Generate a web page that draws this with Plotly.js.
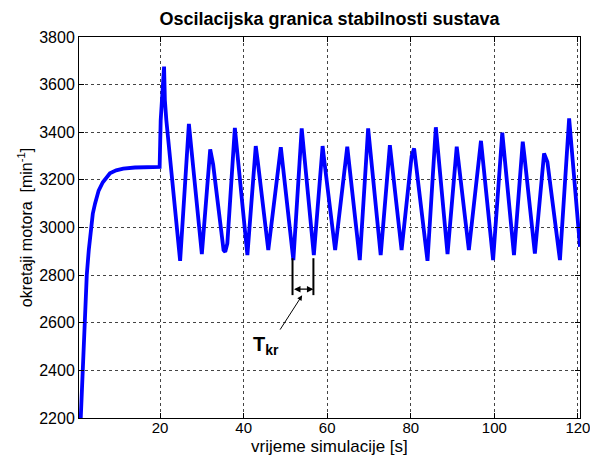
<!DOCTYPE html>
<html>
<head>
<meta charset="utf-8">
<script src="https://cdn.plot.ly/plotly-3.0.1.min.js"></script>
<style>html,body{margin:0;padding:0;background:#fff;}#chart{width:590px;height:456px;}</style>
</head>
<body>
<div id="chart"></div>
<script>
// time [s]
const timeS = [0.9, 1.03, 1.5, 2.0, 2.46, 2.94, 3.42, 3.9, 4.45, 5.3, 6.3, 7.2, 8.0, 9.5, 11.2, 14.0, 17.6, 19.9,
  20.15, 20.4, 20.6, 20.96, 21.15, 21.5, 24.8,
  26.9, 30.0, 32.0, 32.7, 35.2, 35.6, 36.1, 37.9, 40.9, 42.9, 43.4, 45.9, 48.9, 51.9, 53.9, 56.8, 58.9, 59.3,
  61.9, 64.8, 67.8, 69.8, 72.8, 75.0, 75.4, 77.8, 80.2, 80.8, 84.0, 86.0, 88.8, 91.0, 91.4, 93.9, 96.8,
  99.7, 101.9, 104.7, 106.8, 107.2, 109.7, 111.9, 112.7, 115.7, 117.9, 120.5];
// motor speed [min^-1]
const speedRpm = [2150, 2205, 2400, 2597, 2800, 2905, 3000, 3058, 3101, 3155, 3190, 3213, 3228, 3240, 3247, 3252, 3255, 3255,
  3450, 3521, 3560, 3676, 3535, 3451, 2860,
  3435, 2888, 3328, 3265, 2905, 2898, 2933, 3418, 2884, 3342, 3275, 2905, 3337, 2863, 3416, 2884, 3342, 3280,
  2905, 3339, 2863, 3416, 2884, 3346, 3285, 2905, 3300, 3332, 2860, 3421, 2888, 3339, 3280, 2905, 3364,
  2863, 3398, 2884, 3360, 3300, 2891, 3311, 3275, 2863, 3458, 2919];

const xTicks = [20, 40, 60, 80, 100, 120];
const yTicks = [2200, 2400, 2600, 2800, 3000, 3200, 3400, 3600, 3800];

// critical period marker (T_kr)
const tkrTimes = [51.7, 56.7];
const tkrLevels = [2871, 2716, 2741];   // line top, line bottom, arrow level
const tkrLabel = [45.4, 2506];
const tkrPointer = [48.5, 2565, 54.0, 2715];

const FONT = 'Liberation Sans, Arial, sans-serif';

const trace = {
  x: timeS, y: speedRpm, type: 'scatter', mode: 'lines',
  line: {color: '#0000ff', width: 3.8}, hoverinfo: 'skip'
};

const axisCommon = {
  showline: true, linecolor: '#000', linewidth: 1, mirror: 'ticks',
  ticks: 'inside', ticklen: 5, tickcolor: '#000',
  showgrid: true, gridcolor: '#444', griddash: 'dot', gridwidth: 1,
  zeroline: false, tickfont: {family: FONT, size: 16, color: '#000'}
};

const layout = {
  width: 590, height: 456,
  margin: {l: 79, r: 10, t: 37, b: 38},
  paper_bgcolor: '#fff', plot_bgcolor: '#fff',
  showlegend: false,
  title: {text: '<b>Oscilacijska granica stabilnosti sustava</b>', x: 0.5, xref: 'paper',
          y: 0.958, yref: 'container', yanchor: 'middle',
          font: {family: FONT, size: 18, color: '#000'}},
  xaxis: Object.assign({}, axisCommon, {
    range: [0.6, 120.5], tickmode: 'array', tickvals: xTicks, ticktext: xTicks.map(String),
    ticklabeloverflow: 'allow', ticklabelstandoff: -4,
    tickfont: {family: FONT, size: 15, color: '#000'}
  }),
  yaxis: Object.assign({}, axisCommon, {
    range: [2200, 3800], tickmode: 'array', tickvals: yTicks, ticktext: yTicks.map(String),
    title: {text: 'okretaji motora  [min<sup>-1</sup>]', standoff: 2, font: {family: FONT, size: 16, color: '#000'}}
  }),
  shapes: [
    {type: 'line', xref: 'x', yref: 'y', x0: tkrTimes[0], x1: tkrTimes[0], y0: tkrLevels[0], y1: tkrLevels[1], line: {color: '#000', width: 2}},
    {type: 'line', xref: 'x', yref: 'y', x0: tkrTimes[1], x1: tkrTimes[1], y0: tkrLevels[0], y1: tkrLevels[1], line: {color: '#000', width: 2}}
  ],
  annotations: [
    {x: 0.5, y: 0, xref: 'paper', yref: 'paper', xanchor: 'center', yanchor: 'bottom', yshift: -39, borderpad: 0,
     showarrow: false, text: 'vrijeme simulacije [s]', font: {family: FONT, size: 17, color: '#000'}},
    {x: tkrTimes[1], y: tkrLevels[2], ax: tkrTimes[0], ay: tkrLevels[2], xref: 'x', yref: 'y', axref: 'x', ayref: 'y',
     text: '', showarrow: true, arrowhead: 2, arrowside: 'end+start', arrowsize: 1, arrowwidth: 1.3, arrowcolor: '#000',
     standoff: 0, startstandoff: 0},
    {x: tkrPointer[2], y: tkrPointer[3], ax: tkrPointer[0], ay: tkrPointer[1], xref: 'x', yref: 'y', axref: 'x', ayref: 'y',
     text: '', showarrow: true, arrowhead: 2, arrowsize: 1, arrowwidth: 1, arrowcolor: '#000'},
    {x: tkrLabel[0], y: tkrLabel[1], xref: 'x', yref: 'y', showarrow: false,
     text: '<b>T<sub>kr</sub></b>', font: {family: FONT, size: 20, color: '#000'}}
  ]
};

Plotly.newPlot('chart', [trace], layout, {displayModeBar: false, staticPlot: true});
</script>
</body>
</html>
